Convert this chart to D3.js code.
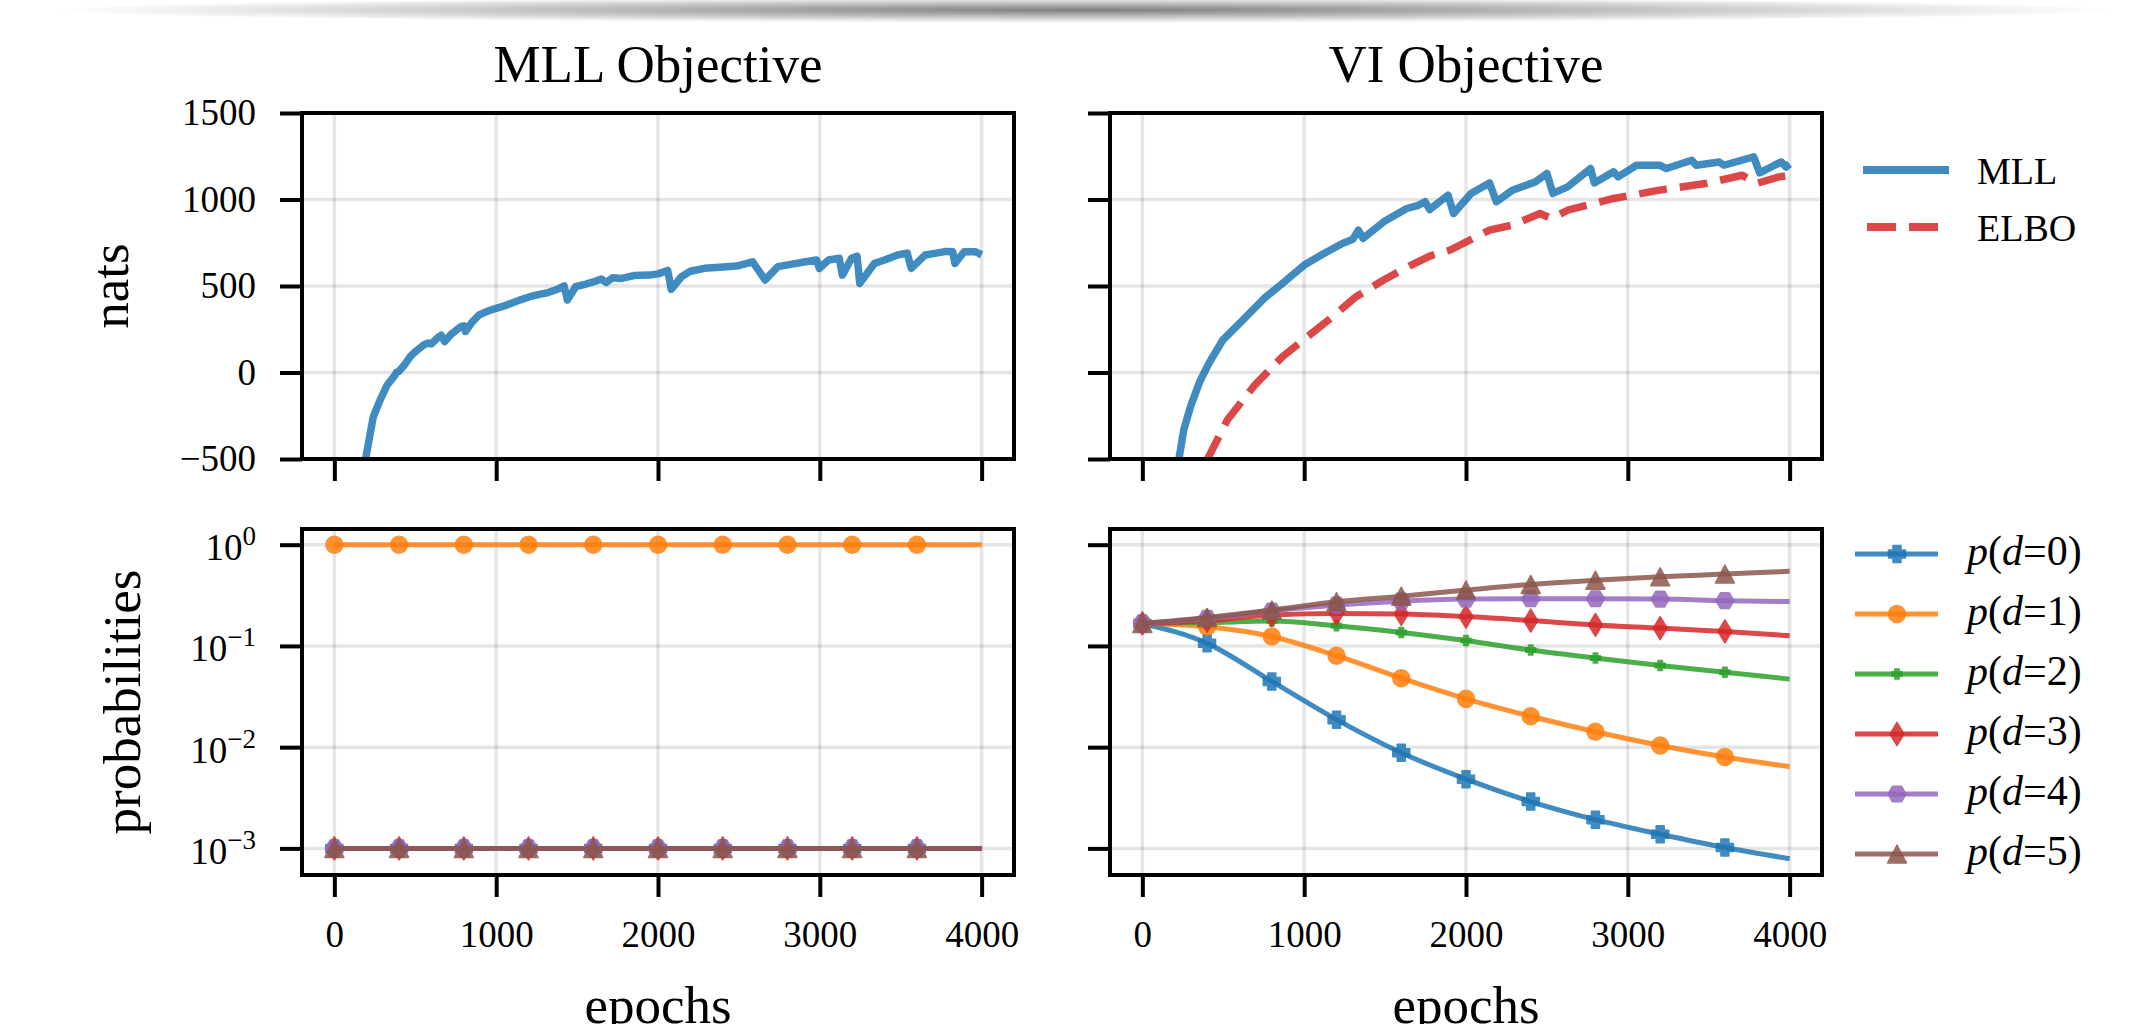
<!DOCTYPE html>
<html>
<head>
<meta charset="utf-8">
<script src="https://cdn.jsdelivr.net/npm/d3@7"></script>
<style>
  body { margin: 0; background: #fff; }
  text { font-family: 'Liberation Serif', 'DejaVu Serif', serif; }
</style>
</head>
<body>
<svg id="chart" width="2148" height="1024"></svg>
<script>
// MLL objective run: log marginal likelihood (nats)
const mllEpochs = [100, 150, 193, 241, 284, 327, 369, 384, 398, 430, 469, 510, 554, 580, 600, 639, 660, 682, 720, 781, 800, 810, 850, 895, 940, 1000, 1050, 1094, 1150, 1207, 1260, 1321, 1370, 1420, 1440, 1491, 1550, 1605, 1650, 1680, 1720, 1776, 1850, 1946, 2000, 2060, 2082, 2145, 2200, 2287, 2400, 2486, 2585, 2662, 2741, 2820, 2912, 2980, 2997, 3054, 3120, 3139, 3196, 3230, 3247, 3338, 3400, 3480, 3540, 3565, 3651, 3720, 3780, 3821, 3835, 3892, 3963, 4000]
const mllValues = [-1400, -850, -500, -254, -157, -71, -23, 0, 6, 40, 92, 128, 160, 170, 165, 202, 215, 179, 220, 265, 270, 237, 290, 333, 352, 371, 385, 400, 420, 438, 450, 462, 478, 500, 419, 496, 510, 525, 540, 520, 548, 544, 560, 563, 570, 590, 481, 554, 585, 602, 610, 615, 640, 535, 612, 625, 640, 650, 602, 650, 660, 563, 660, 672, 515, 631, 650, 679, 690, 602, 679, 690, 700, 698, 631, 698, 698, 680]

// VI objective run: MLL and ELBO (nats)
const viMllEpochs = [180, 200, 227, 256, 298, 355, 412, 497, 611, 753, 866, 1000, 1122, 1236, 1300, 1335, 1364, 1491, 1634, 1700, 1747, 1776, 1889, 1923, 2031, 2145, 2188, 2287, 2429, 2500, 2537, 2628, 2770, 2793, 2912, 2940, 3054, 3196, 3239, 3395, 3423, 3565, 3594, 3778, 3815, 3906, 3949, 3977, 4000]
const viMllValues = [-900, -740, -494, -331, -196, -52, 54, 188, 294, 429, 515, 621, 688, 746, 770, 823, 775, 871, 948, 965, 987, 942, 1025, 919, 1035, 1096, 987, 1054, 1102, 1150, 1035, 1073, 1179, 1096, 1160, 1131, 1198, 1198, 1179, 1227, 1198, 1217, 1198, 1246, 1154, 1198, 1217, 1188, 1205]
const elboEpochs = [350, 406, 526, 696, 866, 1000, 1151, 1321, 1491, 1662, 1776, 1903, 2003, 2145, 2287, 2457, 2528, 2628, 2912, 3196, 3480, 3707, 3793, 3935, 4000]
const elboValues = [-750, -494, -273, -71, 92, 192, 304, 438, 535, 621, 673, 708, 756, 823, 852, 919, 890, 938, 1006, 1054, 1092, 1140, 1092, 1131, 1140]

// probabilities of d, sampled every 400 epochs
const probEpochs = [0, 400, 800, 1200, 1600, 2000, 2400, 2800, 3200, 3600, 4000]
const mllP0 = [0.001, 0.001, 0.001, 0.001, 0.001, 0.001, 0.001, 0.001, 0.001, 0.001, 0.001]
const mllP1 = [1, 1, 1, 1, 1, 1, 1, 1, 1, 1, 1]
const mllP2 = [0.001, 0.001, 0.001, 0.001, 0.001, 0.001, 0.001, 0.001, 0.001, 0.001, 0.001]
const mllP3 = [0.001, 0.001, 0.001, 0.001, 0.001, 0.001, 0.001, 0.001, 0.001, 0.001, 0.001]
const mllP4 = [0.001, 0.001, 0.001, 0.001, 0.001, 0.001, 0.001, 0.001, 0.001, 0.001, 0.001]
const mllP5 = [0.001, 0.001, 0.001, 0.001, 0.001, 0.001, 0.001, 0.001, 0.001, 0.001, 0.001]
const viP0 = [0.1667, 0.106, 0.0446, 0.0187, 0.0088, 0.00483, 0.0029, 0.00192, 0.00138, 0.00102, 0.00079]
const viP1 = [0.1667, 0.155, 0.124, 0.080, 0.048, 0.030, 0.0202, 0.0142, 0.0104, 0.0080, 0.0064]
const viP2 = [0.1667, 0.170, 0.176, 0.158, 0.136, 0.113, 0.091, 0.076, 0.064, 0.055, 0.047]
const viP3 = [0.1667, 0.178, 0.202, 0.209, 0.207, 0.195, 0.178, 0.161, 0.150, 0.139, 0.126]
const viP4 = [0.1667, 0.187, 0.221, 0.253, 0.277, 0.290, 0.292, 0.292, 0.290, 0.280, 0.274]
const viP5 = [0.1667, 0.191, 0.226, 0.273, 0.310, 0.356, 0.405, 0.446, 0.481, 0.512, 0.547]

const dLabels = ['0', '1', '2', '3', '4', '5']
const xTicks = [0, 1000, 2000, 3000, 4000]
const natsTicks = [-500, 0, 500, 1000, 1500]
const probTicks = [1, 0.1, 0.01, 0.001]

const colors = ['#1f77b4', '#ff7f0e', '#2ca02c', '#d62728', '#9467bd', '#8c564b']

// marker shapes, centred on 0,0
function plusPath(s, a) {
  const h = s / 2, k = a / 2
  return `M${-k},${-h}H${k}V${-k}H${h}V${k}H${k}V${h}H${-k}V${k}H${-h}V${-k}H${-k}Z`
}
function circlePath(r) {
  return `M${r},0A${r},${r} 0 1,1 ${-r},0A${r},${r} 0 1,1 ${r},0Z`
}
function diamondPath(w, h) {
  return `M0,${-h / 2}L${w / 2},0L0,${h / 2}L${-w / 2},0Z`
}
function hexPath(r) {
  const pts = d3.range(6).map(i => [r * Math.cos(i * Math.PI / 3), r * Math.sin(i * Math.PI / 3)])
  return 'M' + pts.map(p => p.join(',')).join('L') + 'Z'
}
function trianglePath(w, h) {
  return `M0,${-h / 2}L${w / 2},${h / 2}L${-w / 2},${h / 2}Z`
}
const markers = [
  plusPath(17, 8),
  circlePath(8.5),
  plusPath(10, 4.5),
  diamondPath(14, 23),
  hexPath(9),
  trianglePath(19, 18)
]

const svg = d3.select('#chart')
const defs = svg.append('defs')

// soft shadow band along the top edge
const shade = defs.append('radialGradient').attr('id', 'shade')
shade.append('stop').attr('offset', '0%').attr('stop-color', '#000').attr('stop-opacity', 0.5)
shade.append('stop').attr('offset', '100%').attr('stop-color', '#000').attr('stop-opacity', 0)
svg.append('ellipse')
  .attr('cx', 1085).attr('cy', 10).attr('rx', 1035).attr('ry', 13)
  .attr('fill', 'url(#shade)')

const cols = [{ x0: 302, x1: 1014 }, { x0: 1110, x1: 1822 }]
const rows = [{ y0: 113, y1: 459 }, { y0: 529, y1: 875 }]

const xScales = cols.map(c => d3.scaleLinear().domain([-200, 4200]).range([c.x0, c.x1]))
const natsY = d3.scaleLinear().domain([-500, 1500]).range([rows[0].y1, rows[0].y0])
const probY = d3.scaleLog().domain([Math.pow(10, -3.263), Math.pow(10, 0.155)]).range([rows[1].y1, rows[1].y0])

const TICK = 22
const PAD = 24

function panel(ci, ri, y, yTicks, showX, showY) {
  const c = cols[ci], r = rows[ri], x = xScales[ci]
  const g = svg.append('g')
  const id = `clip-${ci}-${ri}`
  defs.append('clipPath').attr('id', id)
    .append('rect').attr('x', c.x0).attr('y', r.y0).attr('width', c.x1 - c.x0).attr('height', r.y1 - r.y0)

  // grid
  const grid = g.append('g').attr('stroke', '#000').attr('stroke-opacity', 0.1).attr('stroke-width', 3.5)
  grid.selectAll(null).data(xTicks).enter().append('line')
    .attr('x1', d => x(d)).attr('x2', d => x(d)).attr('y1', r.y0).attr('y2', r.y1)
  grid.selectAll(null).data(yTicks).enter().append('line')
    .attr('x1', c.x0).attr('x2', c.x1).attr('y1', d => y(d)).attr('y2', d => y(d))

  const plot = g.append('g').attr('clip-path', `url(#${id})`)

  // spines
  g.append('rect')
    .attr('x', c.x0).attr('y', r.y0).attr('width', c.x1 - c.x0).attr('height', r.y1 - r.y0)
    .attr('fill', 'none').attr('stroke', '#000').attr('stroke-width', 4)

  // axes
  const xa = g.append('g').attr('transform', `translate(0,${r.y1})`)
    .call(d3.axisBottom(x).tickValues(xTicks).tickSizeInner(TICK).tickSizeOuter(0).tickPadding(PAD)
      .tickFormat(showX ? d3.format('d') : ''))
  const ya = g.append('g').attr('transform', `translate(${c.x0},0)`)
    .call(d3.axisLeft(y).tickValues(yTicks).tickSizeInner(TICK).tickSizeOuter(0).tickPadding(PAD)
      .tickFormat(showY ? (y === natsY ? d3.format('d') : d => String(Math.round(Math.log10(d)))) : ''))
  ;[xa, ya].forEach(a => {
    a.select('.domain').remove()
    a.attr('font-size', 37)
    a.selectAll('line').attr('stroke-width', 4)
  })
  xa.selectAll('text').attr('dy', 26)

  // log tick labels as 10 with superscript exponent
  if (showY && y === probY) {
    ya.selectAll('text').each(function () {
      const t = d3.select(this)
      const e = +t.text()
      t.text(null).attr('dy', 15)
      t.append('tspan').text('10')
      t.append('tspan').attr('dy', -15).attr('font-size', 27)
        .text(e < 0 ? '\u2212' + Math.abs(e) : String(e))
    })
  }
  return { plot, x, y }
}

const tl = panel(0, 0, natsY, natsTicks, false, true)
const tr = panel(1, 0, natsY, natsTicks, false, false)
const bl = panel(0, 1, probY, probTicks, true, true)
const br = panel(1, 1, probY, probTicks, true, false)

function natsLine(p, epochs, values, color, dash) {
  const line = d3.line().x((d, i) => p.x(epochs[i])).y(d => p.y(d))
  p.plot.append('path').datum(values)
    .attr('d', line)
    .attr('fill', 'none')
    .attr('stroke', color)
    .attr('stroke-opacity', 0.85)
    .attr('stroke-width', 7.5)
    .attr('stroke-linejoin', 'round')
    .attr('stroke-dasharray', dash || null)
}

natsLine(tl, mllEpochs, mllValues, colors[0])
natsLine(tr, viMllEpochs, viMllValues, colors[0])
natsLine(tr, elboEpochs, elboValues, colors[3], '28,13')

function probSeries(p, values, k) {
  const line = d3.line().x((d, i) => p.x(probEpochs[i])).y(d => p.y(d)).curve(d3.curveMonotoneX)
  p.plot.append('path').datum(values)
    .attr('d', line)
    .attr('fill', 'none')
    .attr('stroke', colors[k])
    .attr('stroke-opacity', 0.85)
    .attr('stroke-width', 5)
  // markers every 400 epochs, last point without marker
  p.plot.selectAll(null).data(values.slice(0, -1)).enter().append('path')
    .attr('d', markers[k])
    .attr('transform', (d, i) => `translate(${p.x(probEpochs[i])},${p.y(d)})`)
    .attr('fill', colors[k])
    .attr('stroke', colors[k])
    .attr('stroke-width', 1.5)
    .attr('stroke-linejoin', 'round')
    .attr('opacity', 0.85)
}

;[mllP0, mllP1, mllP2, mllP3, mllP4, mllP5].forEach((v, k) => probSeries(bl, v, k))
;[viP0, viP1, viP2, viP3, viP4, viP5].forEach((v, k) => probSeries(br, v, k))

// titles and axis labels
const label = (x, y, txt, rot) => svg.append('text')
  .attr('transform', `translate(${x},${y})` + (rot ? ' rotate(-90)' : ''))
  .attr('text-anchor', 'middle')
  .attr('font-size', 53)
  .text(txt)

label(658, 82, 'MLL Objective')
label(1466, 82, 'VI Objective')
label(658, 1023, 'epochs')
label(1466, 1023, 'epochs')
label(128, 286, 'nats', true)
label(140, 702, 'probabilities', true)

// legend: objectives
const leg1 = svg.append('g')
leg1.append('line').attr('x1', 1863).attr('x2', 1949).attr('y1', 170).attr('y2', 170)
  .attr('stroke', colors[0]).attr('stroke-opacity', 0.85).attr('stroke-width', 8)
leg1.append('line').attr('x1', 1863).attr('x2', 1949).attr('y1', 227).attr('y2', 227)
  .attr('stroke', colors[3]).attr('stroke-opacity', 0.85).attr('stroke-width', 8)
  .attr('stroke-dasharray', '29,13').attr('stroke-dashoffset', 38)
leg1.append('text').attr('x', 1977).attr('y', 184).attr('font-size', 38).text('MLL')
leg1.append('text').attr('x', 1977).attr('y', 241).attr('font-size', 38).text('ELBO')

// legend: probabilities
const leg2 = svg.append('g')
dLabels.forEach((d, k) => {
  const yy = 554 + k * 60
  leg2.append('line').attr('x1', 1855).attr('x2', 1938).attr('y1', yy).attr('y2', yy)
    .attr('stroke', colors[k]).attr('stroke-opacity', 0.85).attr('stroke-width', 5)
  leg2.append('path').attr('d', markers[k])
    .attr('transform', `translate(1897,${yy})`)
    .attr('fill', colors[k]).attr('stroke', colors[k]).attr('stroke-width', 1.5)
    .attr('stroke-linejoin', 'round').attr('opacity', 0.85)
  const t = leg2.append('text').attr('x', 1967).attr('y', yy + 11).attr('font-size', 42)
  t.append('tspan').attr('font-style', 'italic').text('p')
  t.append('tspan').text('(')
  t.append('tspan').attr('font-style', 'italic').text('d')
  t.append('tspan').text('=' + d + ')')
})
</script>
</body>
</html>
